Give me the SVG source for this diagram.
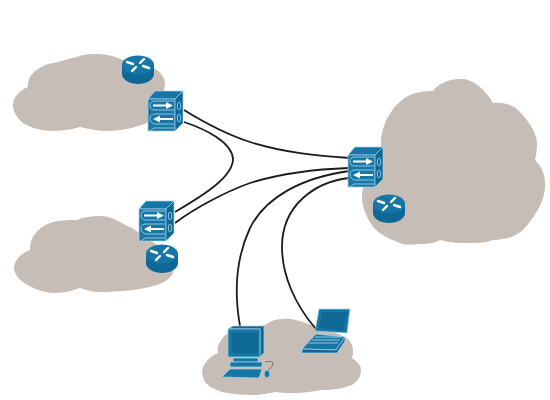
<svg xmlns="http://www.w3.org/2000/svg" width="550" height="400" viewBox="0 0 550 400">
<style>
.cloud{fill:#c6bdb6;stroke:none}
.link{fill:none;stroke:#1c1c1c;stroke-width:1.800}
.soft{filter:url(#soft)}
.d{fill:#0e6796}
.m{fill:#1676a6}
.e{stroke:#a9d5e8;stroke-width:.7}
.l{fill:none;stroke:#9fd0e6;stroke-width:.9}
.w{fill:#fff}
.ws{fill:none;stroke:#fff;stroke-linecap:round}
</style>
<defs>
<filter id="soft" x="-10%" y="-10%" width="120%" height="120%"><feGaussianBlur stdDeviation=".35"/></filter>
<g id="switch">
<path class="m e" d="M0 4L7 -4H35L27 4Z"/>
<rect class="m e" x="0" y="4" width="27" height="32"/>
<path class="d e" d="M27 4L35 -4V28L27 36Z"/>
<path class="l" d="M26 6H7Q2 6 2 10.500T7 15H26M26 19H7Q2 19 2 23.500T7 29H26M6 33H26M2 36L6 33"/>
<ellipse class="l" cx="31" cy="11" rx="1.700" ry="4"/>
<ellipse class="l" cx="31" cy="23" rx="1.700" ry="4"/>
<path class="w" d="M5 9.500H18V7L25 10.500L18 14V11.500H5Z"/>
<path class="w" d="M25 23H12V20.500L5 24L12 27.500V25H25Z"/>
</g>
<g id="router">
<path class="d" d="M-16 0V9C-16 15 -8 19 0 19S16 15 16 9V0Z"/>
<ellipse class="m" cx="0" cy="0" rx="16" ry="9.500"/>
<path class="ws" stroke-width="2.400" d="M-11 -3L-5 -1M-6 6L-2 2M11 3L5 1M6 -6L2 -2"/>
</g>
</defs>
<g id="cloud-top-left"><path class="cloud" d="M13 105C13 97 20 90 28 87C28 80 30 76 33 73C38 68 46 64 53 63C60 62 70 58 77 57C84 54 90 54 97 54C108 54 116 57 123 60C135 63 147 65 157 70C162 74 165 79 165 83C165 95 155 115 147 123C135 128 120 131 107 131C98 131 88 129 80 127C70 130 60 131 50 131C38 130 29 127 23 123C17 118 13 112 13 105Z"/></g>
<g id="cloud-bottom-left"><path class="cloud" d="M14 267C15 259 22 253 30 250C30 244 31 240 33 237C37 230 44 225 50 223C58 220 68 220 77 220C84 217 92 216 100 216C108 216 115 219 120 222C125 225 129 227 132 228L172 255C175 262 175 269 172 275C168 280 163 283 157 285C140 290 118 292 100 292C93 292 86 290 80 288C72 291 62 293 53 293C42 292 31 288 23 282C17 278 14 272 14 267Z"/></g>
<g id="cloud-right"><path class="cloud" d="M381 140C383 120 395 102 410 95C420 91 428 91 433 91C437 84 450 78 463 79C475 80 487 92 493 103C503 102 513 105 518 110C530 122 537 135 537 143C537 150 536 156 535 160C543 168 545 176 545 183C546 195 540 212 523 230C513 238 503 240 493 240C485 243 478 243 470 243C460 243 450 243 440 240C433 244 426 244 420 244C410 245 403 245 400 243C385 238 378 232 373 227C365 215 362 205 362 197C362 188 365 180 367 177L381 150Z"/></g>
<g id="cloud-bottom"><path class="cloud" d="M202 370C204 362 211 356 218 353C217 348 218 345 220 342C222 338 225 335 228 333C240 329 255 327 265 325C270 321 276 319 282 319C290 318 298 320 305 323C318 327 335 332 347 338C351 342 353 346 353 350C353 353 353 356 352 358C358 362 361 366 361 370C361 376 358 381 352 385C344 388 333 390 322 390C313 391 304 393 295 393C288 393 281 393 275 392C267 394 259 395 252 395C241 395 231 394 222 392C214 389 208 386 205 382C203 378 202 374 202 370Z"/></g>
<g id="connectors">
<path class="link" d="M184 110C205 123 225 134 250 142C285 153 320 156 349 158"/>
<path class="link" d="M184 122C205 129 232 142 233 159C233 178 200 197 175 212"/>
<path class="link" d="M175 223C195 208 225 192 250 183C285 172 320 169 349 168"/>
<path class="link" d="M240 326C234 292 236 258 250 228C265 198 300 178 349 171"/>
<path class="link" d="M316 329C295 305 282 275 282 247C282 205 315 182 349 178"/>
</g>
<g class="soft">
<g id="router-1"><use href="#router" x="138" y="65"/></g>
<g id="switch-1"><use href="#switch" x="148" y="95"/></g>
<g id="switch-2"><use href="#switch" x="139" y="205"/></g>
<g id="router-2"><use href="#router" x="162" y="254"/></g>
<g id="switch-3"><use href="#switch" x="348" y="151"/></g>
<g id="router-3"><use href="#router" x="389" y="204"/></g>
<g id="computer">
<path class="d e" d="M228 329L233 326H264V353L260 357V329Z"/>
<rect class="m e" x="228" y="329" width="32" height="28"/>
<rect class="d" x="232" y="333" width="26" height="20" rx="2"/>
<path class="m e" d="M233 358H258V362H233Z"/>
<path class="m e" d="M230 362H262V367H230Z"/>
<path class="m e" d="M222 377L230 369H262L259 378Z"/>
<path d="M265 362Q274 360 273 364T268 370" fill="none" stroke="#7d766c" stroke-width="1"/>
<ellipse class="m e" cx="267" cy="374" rx="2.800" ry="3.800"/>
</g>
<g id="laptop">
<path class="m e" d="M319 309H350L347 333L315 331Z"/>
<path class="d" d="M322 312H347L343 330L319 328Z"/>
<path class="m e" d="M302 349L316 334L345 337L336 350Z"/>
<path class="l" d="M309 343H338M312 340H340M315 337H342"/>
<path class="d e" d="M302 349L336 350L345 337V341L337 353H302Z"/>
</g>
</g>
</svg>
